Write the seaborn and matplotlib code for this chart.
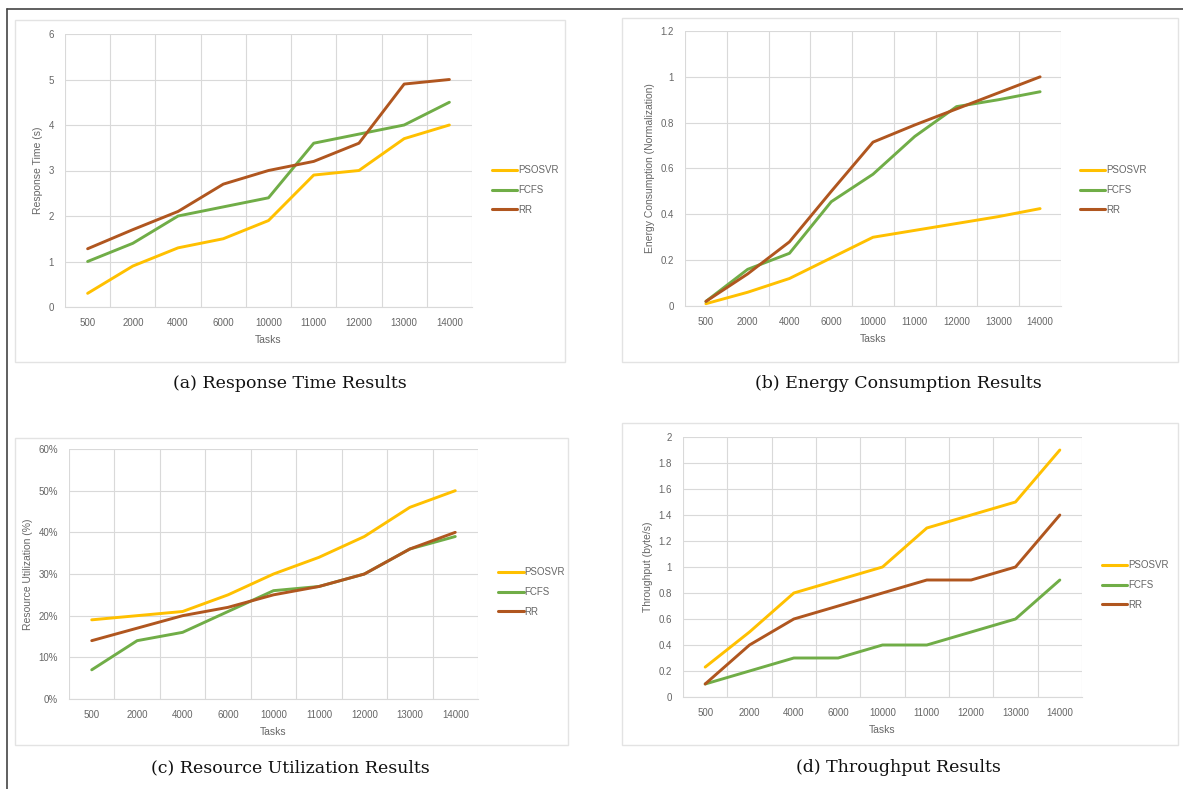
import numpy as np
import pandas as pd
import matplotlib.pyplot as plt
from matplotlib.patches import Rectangle
from matplotlib.lines import Line2D
from matplotlib.ticker import FuncFormatter
import seaborn as sns

# x categories
tasks = ["500", "2000", "4000", "6000", "10000", "11000", "12000", "13000", "14000"]
methods = ["PSOSVR", "FCFS", "RR"]

# (a) response time, s
resp_psosvr = [0.3, 0.9, 1.3, 1.5, 1.9, 2.9, 3.0, 3.7, 4.0]
resp_fcfs = [1.0, 1.4, 2.0, 2.2, 2.4, 3.6, 3.8, 4.0, 4.5]
resp_rr = [1.28, 1.7, 2.1, 2.7, 3.0, 3.2, 3.6, 4.9, 5.0]

# (b) energy consumption, normalized
energy_psosvr = [0.01, 0.06, 0.12, 0.21, 0.30, 0.33, 0.36, 0.39, 0.425]
energy_fcfs = [0.02, 0.16, 0.23, 0.455, 0.575, 0.74, 0.87, 0.90, 0.935]
energy_rr = [0.02, 0.14, 0.28, 0.50, 0.715, 0.79, 0.86, 0.93, 1.0]

# (c) resource utilization, %
util_psosvr = [19, 20, 21, 25, 30, 34, 39, 46, 50]
util_fcfs = [7, 14, 16, 21, 26, 27, 30, 36, 39]
util_rr = [14, 17, 20, 22, 25, 27, 30, 36, 40]

# (d) throughput, byte/s
thr_psosvr = [0.23, 0.5, 0.8, 0.9, 1.0, 1.3, 1.4, 1.5, 1.9]
thr_fcfs = [0.1, 0.2, 0.3, 0.3, 0.4, 0.4, 0.5, 0.6, 0.9]
thr_rr = [0.1, 0.4, 0.6, 0.7, 0.8, 0.9, 0.9, 1.0, 1.4]

colors = {"PSOSVR": "#FFC000", "FCFS": "#70AD47", "RR": "#B0561F"}

W, H = 1183, 789


def long_df(a, b, c):
    rows = []
    for m, vals in zip(methods, [a, b, c]):
        for t, v in zip(tasks, vals):
            rows.append({"Tasks": t, "Method": m, "Value": v})
    return pd.DataFrame(rows)


def px_rect(left, top, right, bottom):
    return [left / W, 1 - bottom / H, (right - left) / W, (bottom - top) / H]


sns.set_theme(style="white")
plt.rcParams['font.family'] = ['Liberation Sans', 'DejaVu Sans']

fig = plt.figure(figsize=(11.83, 7.89), dpi=100)

panels = [
    dict(data=long_df(resp_psosvr, resp_fcfs, resp_rr), ylabel="Response Time (s)",
         ymax=6, step=1, fmt=lambda v, p: f"{v:g}",
         ax=(65, 34, 472, 307), box=(15, 20, 565, 362), legy=190,
         cap="(a) Response Time Results", capxy=(290, 383)),
    dict(data=long_df(energy_psosvr, energy_fcfs, energy_rr), ylabel="Energy Consumption (Normalization)",
         ymax=1.2, step=0.2, fmt=lambda v, p: f"{v:g}",
         ax=(685, 31, 1061, 306), box=(622, 18, 1178, 362), legy=190,
         cap="(b) Energy Consumption Results", capxy=(898, 383)),
    dict(data=long_df(util_psosvr, util_fcfs, util_rr), ylabel="Resource Utilization (%)",
         ymax=60, step=10, fmt=lambda v, p: f"{v:g}%",
         ax=(69, 449, 478, 699), box=(15, 438, 568, 745), legy=592,
         cap="(c) Resource Utilization Results", capxy=(290, 768)),
    dict(data=long_df(thr_psosvr, thr_fcfs, thr_rr), ylabel="Throughput (byte/s)",
         ymax=2, step=0.2, fmt=lambda v, p: f"{v:g}",
         ax=(683, 437, 1082, 697), box=(622, 423, 1178, 745), legy=585,
         cap="(d) Throughput Results", capxy=(898, 768)),
]

for p in panels:
    l, t, r, b = p["box"]
    fig.add_artist(Rectangle((l / W, 1 - b / H), (r - l) / W, (b - t) / H,
                             transform=fig.transFigure, fill=False,
                             edgecolor="#E3E3E3", linewidth=1.0))

    ax = fig.add_axes(px_rect(*p["ax"]))
    sns.lineplot(data=p["data"], x="Tasks", y="Value", hue="Method", palette=colors,
                 linewidth=2.1, sort=False, ax=ax, legend=False)

    ax.set_xlim(-0.5, len(tasks) - 0.5)
    ax.set_ylim(0, p["ymax"])
    ax.set_yticks(np.arange(0, p["ymax"] + p["step"] / 2, p["step"]))
    ax.yaxis.set_major_formatter(FuncFormatter(p["fmt"]))
    ax.set_xticks(np.arange(-0.5, len(tasks), 1), minor=True)
    ax.grid(which="minor", axis="x", color="#D9D9D9", linewidth=0.8)
    ax.grid(which="major", axis="y", color="#D9D9D9", linewidth=0.8)
    ax.set_axisbelow(True)
    for s in ["top", "left", "right"]:
        ax.spines[s].set_visible(False)
    ax.spines["bottom"].set_color("#D9D9D9")
    ax.spines["bottom"].set_linewidth(0.8)
    ax.tick_params(which="both", length=0, labelsize=7, labelcolor="#666666")
    ax.tick_params(axis="x", pad=8)
    ax.tick_params(axis="y", pad=8)
    ax.set_xlabel("Tasks", fontsize=7.5, color="#666666", labelpad=5)
    ax.set_ylabel(p["ylabel"], fontsize=7.5, color="#666666", labelpad=4)

    # legend sits a bit below the middle of the plot area, as in Excel
    ax_top, ax_bot = p["ax"][1], p["ax"][3]
    ly = (ax_bot - p["legy"]) / (ax_bot - ax_top)
    handles = [Line2D([], [], color=colors[m], linewidth=2.2) for m in methods]
    leg = ax.legend(handles, methods, loc="center left", bbox_to_anchor=(1.04, ly),
                    frameon=False, fontsize=7, handlelength=2.6, handletextpad=0.1,
                    labelspacing=1.0, borderaxespad=0)
    for txt in leg.get_texts():
        txt.set_color("#666666")

    cx, cy = p["capxy"]
    fig.text(cx / W, 1 - cy / H, p["cap"], ha="center", va="center",
             fontsize=12.5, family=["DejaVu Serif"], color="#111111")

# outer frame of the figure
fig.add_artist(Line2D([7 / W, 1], [1 - 9 / H, 1 - 9 / H], transform=fig.transFigure,
                      color="#444444", linewidth=1.2))
fig.add_artist(Line2D([7 / W, 7 / W], [0, 1 - 9 / H], transform=fig.transFigure,
                      color="#444444", linewidth=1.2))

fig.savefig("out.png", dpi=100, facecolor="white")
